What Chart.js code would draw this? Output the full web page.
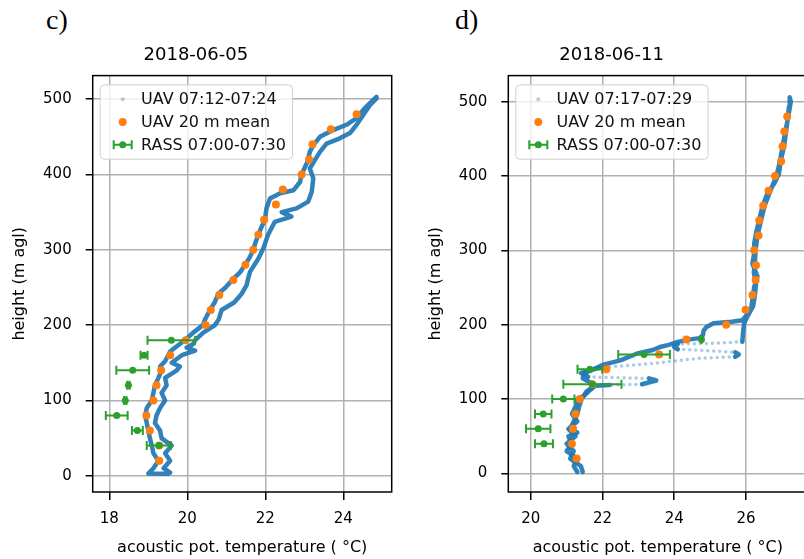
<!DOCTYPE html>
<html>
<head>
<meta charset="utf-8">
<script src="https://cdn.jsdelivr.net/npm/chart.js@4.4.1/dist/chart.umd.min.js"></script>
<style>
  html, body { margin: 0; padding: 0; background: #fff; overflow: hidden; }
  body { width: 804px; height: 559px; position: relative; }
  .panel { position: absolute; top: 0; width: 410px; height: 559px; }
  .tag { position: absolute; top: 6px; font: 28px "Liberation Serif", serif; line-height: 28px; color: #000; }
</style>
</head>
<body>
<div class="tag" style="left:46px">c)</div>
<div class="tag" style="left:455px">d)</div>
<div class="panel" style="left:0"><canvas id="chartC" width="410" height="559"></canvas></div>
<div class="panel" style="left:416px"><canvas id="chartD" width="410" height="559"></canvas></div>
<script>
// ---- panel c) 2018-06-05 ----
const uavC_temp = [
  19.5, 19.0, 19.13, 19.26, 19.13, 19.09, 19.04, 19.0, 18.96, 18.92,
  18.96, 19.09, 19.13, 19.17, 19.26, 19.34, 19.3, 19.43, 19.51, 19.56,
  19.73, 19.94, 20.15, 20.4, 20.45, 20.58, 20.7, 20.8, 20.98, 21.15,
  21.35, 21.48, 21.6, 21.69, 21.75, 21.82, 21.9, 21.99, 22.03, 22.12,
  22.38, 22.72, 22.89, 22.93, 23.08, 23.14, 23.23, 23.40, 23.74, 24.08,
  24.34, 24.55, 24.85,
  24.85, 24.68, 24.51, 24.34, 24.17, 23.91, 23.57, 23.40, 23.27, 23.14,
  23.23, 23.19, 23.1, 22.80, 22.42, 22.67, 22.24, 22.07, 21.95, 21.82,
  21.61, 21.55, 21.52, 21.4, 21.2, 20.88, 20.8, 20.71, 20.41, 20.2,
  20.15, 19.98, 20.2, 19.86, 19.6, 19.81, 19.73, 19.43, 19.47, 19.34,
  19.43, 19.3, 19.21, 19.17, 19.3, 19.34, 19.6, 19.43, 19.56, 19.39,
  19.56
];
const uavC_height = [
  2.5, 3, 10, 20, 30, 40, 50, 60, 70, 80,
  90, 100, 110, 120, 130, 140, 145, 152, 160, 165,
  172, 180, 190, 200, 207, 220, 230, 242, 250, 260,
  270, 280, 290, 300, 310, 320, 330, 340, 355, 368,
  375, 379, 390, 400, 417, 430, 439, 450, 459, 466,
  475, 488, 503,
  501, 492, 479, 466, 455, 448, 441, 430, 419, 408,
  395, 377, 364, 355, 350, 344, 337, 320, 302, 288,
  271, 260, 253, 242, 230, 220, 207, 200, 190, 180,
  175, 170, 166, 160, 150, 145, 140, 130, 120, 110,
  100, 90, 80, 70, 60, 50, 40, 30, 20, 10,
  4
];
const meanC_height = [20, 40, 60, 80, 100, 120, 140, 160, 180, 200, 220, 240,
  260, 280, 300, 320, 340, 360, 380, 400, 420, 440, 460, 480];
const meanC_temp = [19.28, 19.28, 19.04, 18.95, 19.13, 19.21, 19.33, 19.56, 19.96, 20.47, 20.60, 20.82,
  21.18, 21.49, 21.69, 21.82, 21.97, 22.27, 22.45, 22.93, 23.12, 23.21, 23.68, 24.34];
const rassC_height = [40, 60, 80, 100, 120, 140, 160, 180];
const rassC_temp = [19.27, 18.72, 18.19, 18.41, 18.49, 18.60, 18.89, 19.59];
const rassC_err = [0.31, 0.14, 0.28, 0.03, 0.03, 0.42, 0.09, 0.61];

// ---- panel d) 2018-06-11 ----
const uavD_temp = [
  21.3, 21.2, 21.3, 21.0, 21.15, 21.05, 21.3, 21.1, 21.2, 21.3,
  21.35, 21.42, 21.55, 21.7, 21.75, 21.45, 21.5, 21.75, 22.0, 22.5,
  22.75, 22.95, 23.4, 23.6, 23.85, 24.1, 24.4, 24.7, 24.8, 24.82,
  24.9, 25.1, 25.6, 25.9, 26.0, 26.14, 26.18, 26.23, 26.32, 26.18,
  26.23, 26.23, 26.28, 26.37, 26.46, 26.60, 26.79, 26.92, 26.97, 27.06,
  27.11, 27.16, 27.2, 27.22,
  27.25, 27.18, 27.1, 27.02, 26.95, 26.85, 26.68, 26.52, 26.42, 26.32,
  26.27, 26.25, 26.22, 26.28, 26.25, 26.2, 26.05, 25.95, 25.92, 25.9,
  25.0, 24.1, 24.0, 24.1, 25.0, 25.7, 25.8, 25.7, 24.7, 23.4,
  22.1, 21.7, 21.4, 21.6, 22.2, 23.3, 23.5, 23.1, 22.2, 21.8,
  21.65, 21.5, 21.3, 21.25, 21.15, 21.3, 21.05, 21.25, 21.0, 21.2,
  21.1, 21.4, 21.45
];
const uavD_height = [
  2, 10, 20, 30, 40, 50, 55, 60, 70, 80,
  90, 100, 110, 115, 120, 128, 135, 140, 146, 152,
  157, 161, 166, 170, 173, 177, 180, 182, 186, 192,
  197, 202, 204, 206, 212, 220, 233, 251, 265, 282,
  296, 309, 323, 341, 359, 377, 390, 403, 421, 439,
  457, 475, 493, 506,
  500, 480, 460, 440, 420, 400, 380, 360, 340, 320,
  300, 285, 270, 255, 240, 225, 212, 202, 190, 177,
  175, 174, 170, 167, 165, 163, 160, 157, 155, 148,
  143, 140, 135, 130, 129, 128, 125, 120, 119, 118,
  112, 105, 100, 90, 80, 70, 60, 50, 40, 30,
  20, 10, 2
];
const meanD_height = [20, 40, 60, 80, 100, 120, 140, 160, 180, 200, 220, 240,
  260, 280, 300, 320, 340, 360, 380, 400, 420, 440, 460, 480];
const meanD_temp = [21.28, 21.15, 21.18, 21.25, 21.37, 21.72, 22.11, 23.58, 24.34, 25.45, 25.99, 26.18,
  26.27, 26.28, 26.23, 26.35, 26.37, 26.48, 26.63, 26.81, 26.98, 27.02, 27.07, 27.15];
const rassD_height = [40, 60, 80, 100, 120, 140, 160, 180];
const rassD_temp = [20.37, 20.21, 20.35, 20.91, 21.72, 21.65, 23.16, 24.76];
const rassD_err = [0.25, 0.34, 0.23, 0.31, 0.81, 0.345, 0.72, 0.0];

const heightTicks = [0, 100, 200, 300, 400, 500];
const tempTicksC = [18, 20, 22, 24];
const tempTicksD = [20, 22, 24, 26];

const BLUE = "#1f77b4", ORANGE = "#ff7f0e", GREEN = "#2ca02c";
const FONT = "DejaVu Sans";

const pts = (xs, ys) => xs.map((v, i) => ({ x: v, y: ys[i] }));

// long gaps between samples look like single pale markers in the original
const sparse = ctx => Math.hypot(ctx.p1.x - ctx.p0.x, ctx.p1.y - ctx.p0.y) > 20;

// matplotlib style spines
const spines = {
  id: "spines",
  afterDatasetsDraw(chart) {
    const { ctx, chartArea: a } = chart;
    ctx.save();
    ctx.strokeStyle = "#000";
    ctx.lineWidth = 1.5;
    ctx.strokeRect(a.left, a.top, a.right - a.left, a.bottom - a.top);
    ctx.restore();
  }
};

// horizontal error bars for RASS
const errorBars = {
  id: "errorBars",
  afterDatasetDraw(chart, args) {
    const ds = chart.data.datasets[args.index];
    if (!ds.xErr) return;
    const { ctx, scales: { x, y } } = chart;
    ctx.save();
    ctx.strokeStyle = GREEN;
    ctx.lineWidth = 2;
    ds.data.forEach((p, i) => {
      const e = ds.xErr[i];
      const x0 = x.getPixelForValue(p.x - e), x1 = x.getPixelForValue(p.x + e);
      const py = y.getPixelForValue(p.y);
      ctx.beginPath();
      ctx.moveTo(x0, py); ctx.lineTo(x1, py);
      ctx.moveTo(x0, py - 4.5); ctx.lineTo(x0, py + 4.5);
      ctx.moveTo(x1, py - 4.5); ctx.lineTo(x1, py + 4.5);
      ctx.stroke();
    });
    ctx.restore();
  }
};

// legend box inside the axes (upper left)
const boxLegend = {
  id: "boxLegend",
  afterDraw(chart) {
    const { ctx, chartArea: a } = chart;
    const ds = chart.data.datasets;
    const bx = a.left + 7.5, by = a.top + 9.3, bw = 192.3, bh = 74.3, r = 4;
    ctx.save();
    ctx.beginPath();
    ctx.moveTo(bx + r, by);
    ctx.arcTo(bx + bw, by, bx + bw, by + bh, r);
    ctx.arcTo(bx + bw, by + bh, bx, by + bh, r);
    ctx.arcTo(bx, by + bh, bx, by, r);
    ctx.arcTo(bx, by, bx + bw, by, r);
    ctx.closePath();
    ctx.fillStyle = "rgba(255,255,255,0.8)";
    ctx.fill();
    ctx.strokeStyle = "#d0d0d0";
    ctx.lineWidth = 1;
    ctx.stroke();

    const mx = a.left + 30, tx = a.left + 48.3;
    ctx.font = "16px '" + FONT + "'";
    ctx.textBaseline = "middle";
    ctx.fillStyle = "#111";
    ds.forEach((d, i) => {
      const ry = by + 14.3 + i * 22.8;
      ctx.save();
      if (i === 0) {
        ctx.fillStyle = "rgba(31,119,180,0.35)";
        ctx.beginPath(); ctx.arc(mx, ry, 2, 0, Math.PI * 2); ctx.fill();
      } else if (i === 1) {
        ctx.fillStyle = ORANGE;
        ctx.beginPath(); ctx.arc(mx, ry, 4, 0, Math.PI * 2); ctx.fill();
      } else {
        ctx.strokeStyle = GREEN; ctx.lineWidth = 2;
        ctx.beginPath();
        ctx.moveTo(mx - 9, ry); ctx.lineTo(mx + 9, ry);
        ctx.moveTo(mx - 9, ry - 4.5); ctx.lineTo(mx - 9, ry + 4.5);
        ctx.moveTo(mx + 9, ry - 4.5); ctx.lineTo(mx + 9, ry + 4.5);
        ctx.stroke();
        ctx.fillStyle = GREEN;
        ctx.beginPath(); ctx.arc(mx, ry, 3.5, 0, Math.PI * 2); ctx.fill();
      }
      ctx.restore();
      ctx.fillText(d.label, tx, ry + 1);
    });
    ctx.restore();
  }
};

function makePanel(id, p) {
  return new Chart(document.getElementById(id), {
    type: "scatter",
    data: {
      datasets: [
        {
          label: p.uavLabel,
          data: pts(p.uavT, p.uavH),
          showLine: true,
          pointRadius: 0,
          borderColor: "rgba(31,119,180,0.92)",
          borderWidth: 4.5,
          borderCapStyle: "round",
          borderJoinStyle: "round",
          segment: {
            borderColor: ctx => sparse(ctx) ? "rgba(31,119,180,0.38)" : undefined,
            borderDash: ctx => sparse(ctx) ? [0, 6] : undefined,
            borderWidth: ctx => sparse(ctx) ? 3.5 : undefined
          },
          order: 3
        },
        {
          label: "UAV 20 m mean",
          data: pts(p.meanT, p.meanH),
          pointRadius: 4,
          backgroundColor: ORANGE,
          borderWidth: 0,
          order: 2
        },
        {
          label: "RASS 07:00-07:30",
          data: pts(p.rassT, p.rassH),
          xErr: p.rassErr,
          pointRadius: 3.5,
          backgroundColor: GREEN,
          borderWidth: 0,
          order: 1
        }
      ]
    },
    options: {
      responsive: false,
      animation: false,
      devicePixelRatio: 1,
      events: [],
      layout: { padding: { left: 0, right: p.padRight, top: 0, bottom: 0 } },
      plugins: {
        legend: { display: false },
        tooltip: { enabled: false },
        title: {
          display: true,
          text: p.title,
          color: "#000",
          font: { family: FONT, size: 18, weight: "normal" },
          padding: { top: 45, bottom: 9 }
        }
      },
      scales: {
        x: {
          type: "linear",
          min: p.xMin,
          max: p.xMax,
          afterBuildTicks: s => { s.ticks = p.xTicks.map(v => ({ value: v })); },
          afterFit: s => { s.height = 67; },
          border: { display: false },
          grid: { color: "#b0b0b0", lineWidth: 1.5, tickColor: "#000", tickWidth: 1.5, tickLength: 8 },
          ticks: { color: "#000", font: { family: FONT, size: 15 }, padding: 10, maxRotation: 0 },
          title: {
            display: true,
            text: "acoustic pot. temperature ( °C)",
            color: "#000",
            font: { family: FONT, size: 16 },
            padding: { top: 0, bottom: 2 }
          }
        },
        y: {
          type: "linear",
          min: p.yMin,
          max: p.yMax,
          afterBuildTicks: s => { s.ticks = heightTicks.map(v => ({ value: v })); },
          afterFit: s => { s.width = p.yWidth; },
          border: { display: false },
          grid: { color: "#b0b0b0", lineWidth: 1.5, tickColor: "#000", tickWidth: 1.5, tickLength: 7 },
          ticks: { color: "#000", font: { family: FONT, size: 15 }, padding: 14 },
          title: {
            display: true,
            text: "height (m agl)",
            color: "#000",
            font: { family: FONT, size: 16 },
            padding: { top: 10, bottom: 0 }
          }
        }
      }
    },
    plugins: [errorBars, spines, boxLegend]
  });
}

makePanel("chartC", {
  title: "2018-06-05",
  uavLabel: "UAV 07:12-07:24",
  uavT: uavC_temp, uavH: uavC_height,
  meanT: meanC_temp, meanH: meanC_height,
  rassT: rassC_temp, rassH: rassC_height, rassErr: rassC_err,
  xMin: 17.574, xMax: 25.24, xTicks: tempTicksC,
  yMin: -21.6, yMax: 531.3,
  yWidth: 92.7, padRight: 18.3
});

makePanel("chartD", {
  title: "2018-06-11",
  uavLabel: "UAV 07:17-07:29",
  uavT: uavD_temp, uavH: uavD_height,
  meanT: meanD_temp, meanH: meanD_height,
  rassT: rassD_temp, rassH: rassD_height, rassErr: rassD_err,
  xMin: 19.376, xMax: 27.71, xTicks: tempTicksD,
  yMin: -24.9, yMax: 535,
  yWidth: 92.3, padRight: 18.7
});
</script>
</body>
</html>
